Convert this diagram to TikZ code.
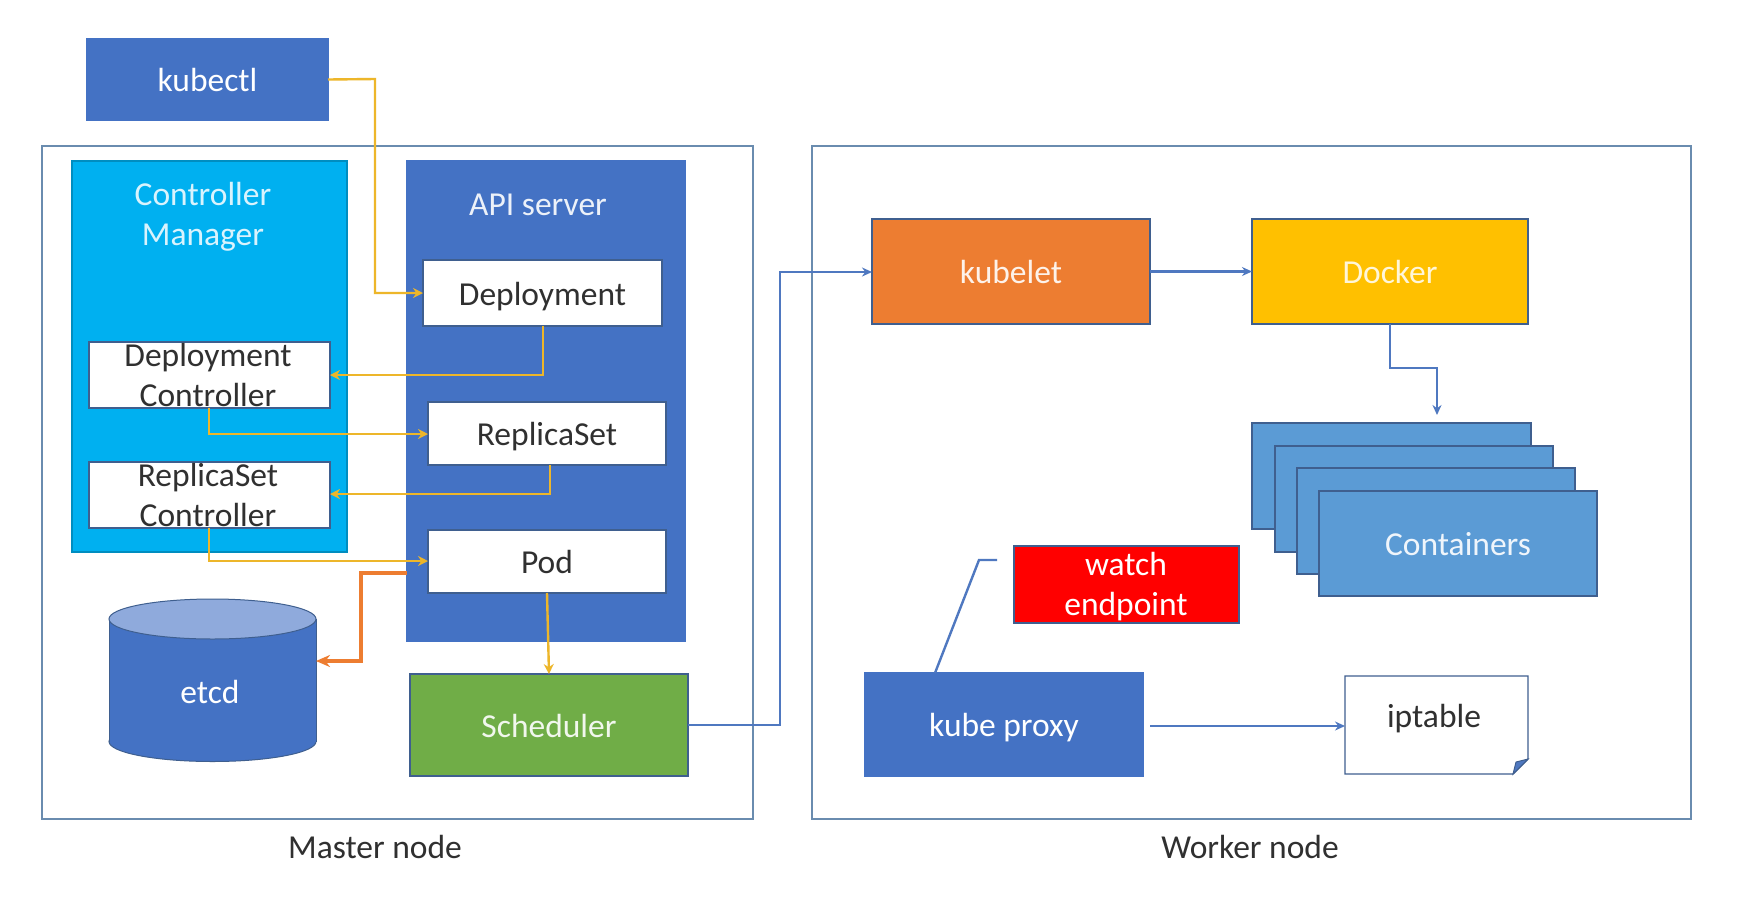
\documentclass[tikz,border=0pt]{standalone}
\usepackage{fontspec}
\setmainfont{Carlito}
\usetikzlibrary{arrows.meta}
\definecolor{kblue}{HTML}{4472C4}
\definecolor{ksky}{HTML}{00B0F0}
\definecolor{kgreen}{HTML}{70AD47}
\definecolor{korange}{HTML}{ED7D31}
\definecolor{kgold}{HTML}{FFC000}
\definecolor{kcont}{HTML}{5B9BD5}
\definecolor{kedge}{HTML}{3F5F8F}
\definecolor{kframe}{HTML}{6A8CAF}
\definecolor{kwire}{HTML}{4F78C0}
\definecolor{kamber}{HTML}{EDB62A}
\definecolor{kink}{HTML}{303030}
\definecolor{kcap}{HTML}{8FAADC}
\tikzset{
  base/.style={rectangle,inner sep=0pt,outer sep=0pt,anchor=north west,line width=1.6pt,text height=28pt,text depth=4pt},
  frame/.style={base,draw=kframe,line width=2pt,fill=white},
  solid blue/.style={base,fill=kblue,draw=kblue},
  white card/.style={base,fill=white,draw=kedge,line width=1.2pt,text=kink},
  sky/.style={base,fill=ksky,draw=ksky!80!black},
  cont/.style={base,fill=kcont,draw=kedge},
  lbl/.style={inner sep=0pt,outer sep=0pt,align=center},
  wlbl/.style={lbl,text=white},
  dlbl/.style={lbl,text=kink},
  goldline/.style={draw=kamber,line width=2.4pt,-{Stealth[length=10pt,width=10pt]}},
  blueline/.style={draw=kwire,line width=2.4pt,-{Stealth[length=10pt,width=9pt]}},
  orangeline/.style={draw=korange,line width=4pt,-{Stealth[length=14pt,width=12pt]}},
  every node/.append style={font=\fontsize{33.5}{40}\selectfont}
}
\newcommand{\mybox}[7]{\node[#1,minimum width={#5-#3},minimum height={#6-#4}] (#2) at (#3,#4) {#7};}
\begin{document}
\begin{tikzpicture}[x=1pt,y=-1pt]
\useasboundingbox (0,0) rectangle (1738,906);
\fill[white] (0,0) rectangle (1738,906);
% frames
\mybox{frame}{master}{42}{146}{753}{819}{}
\mybox{frame}{worker}{812}{146}{1691}{819}{}
\node[dlbl] (mastertext) at (375,847) {Master node};
\node[dlbl] (workertext) at (1250,847) {Worker node};
% master
\mybox{solid blue,text=white}{kubectl}{87}{39}{328}{120}{kubectl}
\mybox{sky}{cm}{72}{161}{347}{552}{}
\node[lbl,text=white!85!ksky] (cmtext) at (203,217) {Controller\\Manager};
\mybox{solid blue}{api}{407}{161}{685}{641}{}
\node[wlbl,text=white!90!kblue] (apitext) at (538,205) {API server};
\mybox{white card}{deploy}{423}{260}{662}{326}{Deployment}
\mybox{white card}{dctrl}{89}{342}{330}{408}{}
\node[dlbl] (dctrltext) at (208,375) {Deployment\\Controller};
\mybox{white card}{rs}{428}{402}{666}{465}{ReplicaSet}
\mybox{white card}{rctrl}{89}{462}{330}{528}{}
\node[dlbl] (rctrltext) at (208,495) {ReplicaSet\\Controller};
\mybox{white card}{pod}{428}{530}{666}{593}{Pod}
\mybox{base,fill=kgreen,draw=kedge,text=white!90!kgreen}{sched}{410}{674}{688}{776}{Scheduler}
% etcd cylinder
\node[rectangle,inner sep=0pt,outer sep=0pt,minimum width=207pt,minimum height=163pt,anchor=north west] (etcd) at (109,599) {};
\coordinate (etop) at (etcd.center |- 0,619);
\coordinate (ebot) at (etcd.center |- 0,741.5);
\draw[fill=kblue,draw=kedge,line width=1pt] (ebot) ellipse (103.5pt and 20pt);
\fill[kblue] (etcd.west |- etop) rectangle (etcd.east |- ebot);
\draw[draw=kedge,line width=1pt] (etcd.west |- etop) -- (etcd.west |- ebot) (etcd.east |- etop) -- (etcd.east |- ebot);
\draw[fill=kcap,draw=kedge,line width=1pt] (etop) ellipse (103.5pt and 20pt);
\node[wlbl] (etcdtext) at (210,692) {etcd};
% worker
\mybox{base,fill=korange,draw=kedge,text=white!90!korange}{kubelet}{872}{219}{1150}{324}{kubelet}
\mybox{base,fill=kgold,draw=kedge,text=white!85!kgold}{docker}{1252}{219}{1528}{324}{Docker}
\mybox{cont}{c1}{1252}{423}{1531}{529}{}
\mybox{cont}{c2}{1275}{446}{1553}{552}{}
\mybox{cont}{c3}{1297}{468}{1575}{574}{}
\mybox{cont,text=white!90!kcont}{c4}{1319}{491}{1597}{596}{Containers}
\mybox{base,fill=red,draw=kedge}{watch}{1014}{546}{1239}{623}{}
\node[wlbl] (watchtext) at (1126,587) {watch\\endpoint};
\mybox{solid blue,text=white}{proxy}{865}{673}{1143}{776}{kube proxy}
\node[inner sep=0pt,outer sep=0pt,minimum width=183pt,minimum height=98pt,anchor=north west] (ipt) at (1345,676) {};
\draw[draw=kedge,line width=1.4pt,fill=white] (ipt.north west) -- (ipt.north east) -- ([yshift=15pt]ipt.south east) -- ([xshift=-15pt]ipt.south east) -- (ipt.south west) -- cycle;
\draw[draw=kedge,line width=1pt,fill=kwire] ([yshift=15pt]ipt.south east) -- ([xshift=-15pt]ipt.south east) -- ([xshift=-12pt,yshift=12pt]ipt.south east) -- cycle;
\node[dlbl] (ipttext) at (1434,719) {iptable};
% connectors
\coordinate (b1) at (375,79);
\coordinate (b2) at (375,293);
\draw[goldline] (kubectl.east) -- (b1) -- (b2) -- (deploy.west);
\coordinate (b3) at (543,326);
\coordinate (b4) at (543,375);
\draw[goldline] (b3) -- (b4) -- (dctrl.east |- b4);
\coordinate (b5) at (209,408);
\coordinate (b6) at (209,434);
\draw[goldline] (b5) -- (b6) -- (rs.west |- b6);
\coordinate (b7) at (550,465);
\coordinate (b8) at (550,494);
\draw[goldline] (b7) -- (b8) -- (rctrl.east |- b8);
\coordinate (b9) at (209,528);
\coordinate (b10) at (209,561);
\draw[goldline] (b9) -- (b10) -- (pod.west |- b10);
\draw[goldline] (pod.south) -- (sched.north);
\coordinate (o1) at (407,573);
\coordinate (o2) at (361,573);
\coordinate (o3) at (361,661);
\draw[orangeline] (o1) -- (o2) -- (o3) -- (etcd.east |- o3);
\coordinate (w1) at (780,725);
\coordinate (w2) at (780,272);
\draw[blueline] (sched.east |- w1) -- (w1) -- (w2) -- (kubelet.west |- w2);
\draw[blueline] (kubelet.east) -- (docker.west);
\coordinate (d1) at (1390,368);
\coordinate (d2) at (1437,368);
\coordinate (d3) at (1437,415);
\draw[blueline] (docker.south) -- (d1) -- (d2) -- (d3);
\coordinate (p1) at (1150,726);
\draw[blueline] (p1) -- (ipt.west |- p1);
\coordinate (l1) at (935,673);
\coordinate (l2) at (979,560);
\coordinate (l3) at (997,560);
\draw[draw=kwire,line width=2.4pt] (l1) -- (l2) -- (l3);
\end{tikzpicture}
\end{document}
